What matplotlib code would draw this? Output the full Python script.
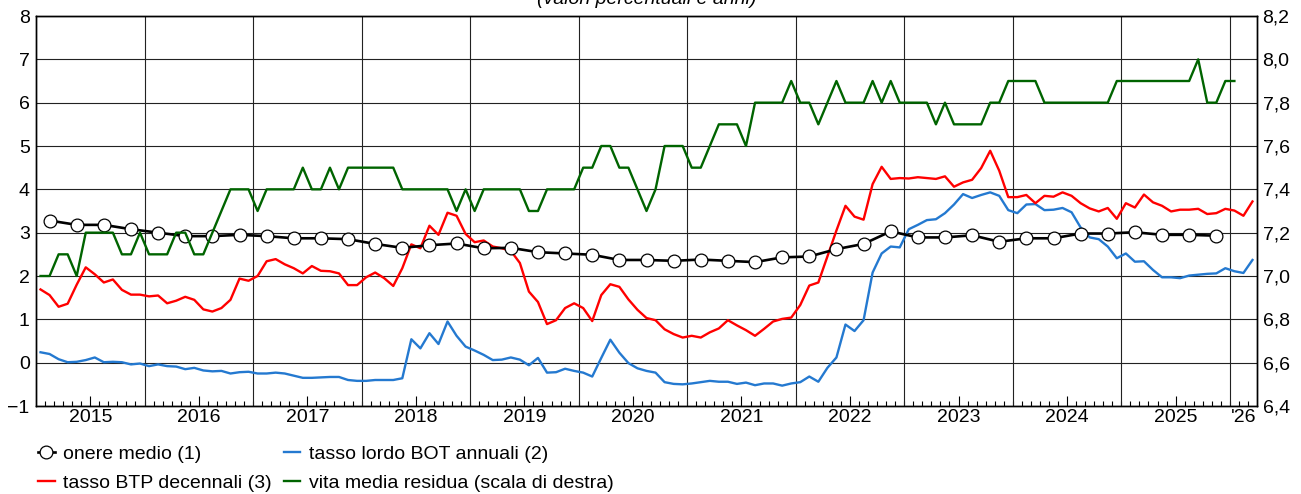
import numpy as np
import matplotlib
matplotlib.use("Agg")
import matplotlib.pyplot as plt
from matplotlib.ticker import FuncFormatter

plt.rcParams['font.family'] = ['Liberation Sans', 'DejaVu Sans']

# Year labels (placed at mid-year) and the partial final year
year_labels = ['2015', '2016', '2017', '2018', '2019', '2020',
               '2021', '2022', '2023', '2024', '2025']
last_year_label = "'26"

# Quarterly average cost of debt (%), Q1 2015 - Q4 2025
onere_medio = [
    3.28, 3.18, 3.18, 3.08,
    3.00, 2.92, 2.92, 2.95,
    2.92, 2.87, 2.87, 2.85,
    2.74, 2.65, 2.71, 2.75,
    2.64, 2.65, 2.55, 2.52,
    2.49, 2.37, 2.37, 2.35,
    2.38, 2.35, 2.32, 2.43,
    2.45, 2.62, 2.74, 3.03,
    2.89, 2.89, 2.94, 2.79,
    2.87, 2.87, 2.98, 2.98,
    3.01, 2.95, 2.95, 2.93,
]

# Monthly gross yield on annual BOT (%), Jan 2015 - Mar 2026
bot_annuali = [
    0.24, 0.20, 0.08, 0.01, 0.02, 0.06, 0.12, 0.01, 0.02, 0.01, -0.04, -0.02,
    -0.08, -0.04, -0.08, -0.09, -0.15, -0.12, -0.18, -0.20, -0.19, -0.25, -0.22, -0.21,
    -0.25, -0.25, -0.23, -0.25, -0.30, -0.35, -0.35, -0.34, -0.33, -0.33, -0.40, -0.42,
    -0.42, -0.40, -0.40, -0.40, -0.36, 0.54, 0.33, 0.68, 0.43, 0.95, 0.62, 0.37,
    0.28, 0.18, 0.06, 0.07, 0.12, 0.07, -0.06, 0.11, -0.23, -0.22, -0.14, -0.19,
    -0.23, -0.32, 0.11, 0.53, 0.23, -0.01, -0.13, -0.19, -0.23, -0.45, -0.49, -0.50,
    -0.48, -0.45, -0.42, -0.44, -0.44, -0.49, -0.46, -0.52, -0.48, -0.48, -0.53, -0.48,
    -0.45, -0.32, -0.44, -0.12, 0.12, 0.88, 0.73, 0.98, 2.08, 2.52, 2.68, 2.66,
    3.08, 3.18, 3.29, 3.31, 3.45, 3.65, 3.89, 3.80, 3.87, 3.93, 3.85, 3.52,
    3.45, 3.65, 3.66, 3.52, 3.53, 3.57, 3.47, 3.12, 2.89, 2.85, 2.68, 2.41,
    2.52, 2.33, 2.34, 2.14, 1.97, 1.97, 1.95, 2.01, 2.03, 2.05, 2.06, 2.18,
    2.11, 2.07, 2.37,
]

# Monthly 10-year BTP yield (%), Jan 2015 - Mar 2026
btp_decennali = [
    1.69, 1.56, 1.29, 1.36, 1.80, 2.20, 2.04, 1.85, 1.92, 1.68, 1.57, 1.57,
    1.53, 1.55, 1.37, 1.43, 1.52, 1.45, 1.23, 1.18, 1.26, 1.45, 1.94, 1.89,
    2.00, 2.34, 2.39, 2.27, 2.18, 2.06, 2.23, 2.12, 2.11, 2.06, 1.79, 1.79,
    1.97, 2.08, 1.95, 1.77, 2.18, 2.73, 2.64, 3.16, 2.95, 3.46, 3.39, 2.97,
    2.78, 2.82, 2.68, 2.64, 2.58, 2.30, 1.64, 1.40, 0.89, 0.98, 1.26, 1.37,
    1.26, 0.96, 1.56, 1.81, 1.75, 1.46, 1.22, 1.03, 0.98, 0.77, 0.66, 0.58,
    0.62, 0.58, 0.70, 0.79, 0.98, 0.86, 0.75, 0.62, 0.78, 0.95, 1.01, 1.04,
    1.33, 1.78, 1.85, 2.45, 3.05, 3.62, 3.37, 3.30, 4.12, 4.52, 4.24, 4.26,
    4.25, 4.28, 4.26, 4.24, 4.30, 4.06, 4.16, 4.22, 4.49, 4.89, 4.43, 3.82,
    3.82, 3.87, 3.68, 3.85, 3.83, 3.93, 3.85, 3.68, 3.56, 3.49, 3.57, 3.32,
    3.68, 3.58, 3.88, 3.70, 3.62, 3.49, 3.53, 3.53, 3.55, 3.43, 3.45, 3.55,
    3.51, 3.39, 3.72,
]

# Monthly average residual life of debt (years, right scale), Jan 2015 - Jan 2026
vita_media = [
    7.0, 7.0, 7.1, 7.1, 7.0, 7.2, 7.2, 7.2, 7.2, 7.1, 7.1, 7.2,
    7.1, 7.1, 7.1, 7.2, 7.2, 7.1, 7.1, 7.2, 7.3, 7.4, 7.4, 7.4,
    7.3, 7.4, 7.4, 7.4, 7.4, 7.5, 7.4, 7.4, 7.5, 7.4, 7.5, 7.5,
    7.5, 7.5, 7.5, 7.5, 7.4, 7.4, 7.4, 7.4, 7.4, 7.4, 7.3, 7.4,
    7.3, 7.4, 7.4, 7.4, 7.4, 7.4, 7.3, 7.3, 7.4, 7.4, 7.4, 7.4,
    7.5, 7.5, 7.6, 7.6, 7.5, 7.5, 7.4, 7.3, 7.4, 7.6, 7.6, 7.6,
    7.5, 7.5, 7.6, 7.7, 7.7, 7.7, 7.6, 7.8, 7.8, 7.8, 7.8, 7.9,
    7.8, 7.8, 7.7, 7.8, 7.9, 7.8, 7.8, 7.8, 7.9, 7.8, 7.9, 7.8,
    7.8, 7.8, 7.8, 7.7, 7.8, 7.7, 7.7, 7.7, 7.7, 7.8, 7.8, 7.9,
    7.9, 7.9, 7.9, 7.8, 7.8, 7.8, 7.8, 7.8, 7.8, 7.8, 7.8, 7.9,
    7.9, 7.9, 7.9, 7.9, 7.9, 7.9, 7.9, 7.9, 8.0, 7.8, 7.8, 7.9,
    7.9,
]

# Time axis in months from January 2015; monthly points sit mid-month,
# quarterly points mid-quarter.
def monthly_x(values):
    return np.arange(len(values)) + 0.5

x_quarters = np.arange(len(onere_medio)) * 3 + 1.5

W, H = 1301, 494
fig = plt.figure(figsize=(W / 100, H / 100), dpi=100)
left_px, right_px, top_px, bottom_px = 36, 1257, 16, 406
ax = fig.add_axes([left_px / W, 1 - bottom_px / H,
                   (right_px - left_px) / W, (bottom_px - top_px) / H])
ax2 = ax.twinx()

FS = 14
RED = '#ff0000'
BLUE = '#2479d0'
GREEN = '#006400'

l_bot, = ax.plot(monthly_x(bot_annuali), bot_annuali, color=BLUE, lw=1.7,
                 label='tasso lordo BOT annuali (2)', zorder=3)
l_btp, = ax.plot(monthly_x(btp_decennali), btp_decennali, color=RED, lw=1.7,
                 label='tasso BTP decennali (3)', zorder=3)
l_om, = ax.plot(x_quarters, onere_medio, color='black', lw=1.9, marker='o',
                ms=9.2, mfc='white', mec='black', mew=0.9,
                label='onere medio (1)', zorder=4)
l_vm, = ax2.plot(monthly_x(vita_media), vita_media, color=GREEN, lw=1.7,
                 label='vita media residua (scala di destra)', zorder=3)

# Axes ranges
ax.set_xlim(0, 135)
ax.set_ylim(-1, 8)
ax2.set_ylim(6.4, 8.2)

# Gridlines: horizontal at each unit, vertical at year boundaries
ax.set_yticks(np.arange(-1, 9, 1))
ax.grid(axis='y', color='#222222', lw=0.8, zorder=1)
for m in range(12, 135, 12):
    ax.axvline(m, color='#222222', lw=0.8, zorder=1)
ax.set_axisbelow(True)

# X ticks: long ticks at mid-year carry the year labels, short monthly ticks
ax.set_xticks(np.arange(6, 132, 12))
ax.set_xticklabels(year_labels)
ax.set_xticks(np.arange(1, 135), minor=True)
ax.tick_params(axis='x', which='major', direction='in', length=7, width=0.8,
               labelsize=FS, pad=2.5, colors='black')
ax.tick_params(axis='x', which='minor', direction='in', length=3.5, width=0.8)
ax.annotate(last_year_label, xy=(133.5, 0), xycoords=('data', 'axes fraction'),
            xytext=(0, -2.5), textcoords='offset points',
            ha='center', va='top', fontsize=FS)

ax.tick_params(axis='y', length=0, labelsize=FS, pad=4.5)
ax2.set_yticks(np.arange(6.4, 8.21, 0.2))
ax2.yaxis.set_major_formatter(FuncFormatter(lambda v, p: f"{v:.1f}".replace('.', ',')))
ax2.tick_params(axis='y', length=0, labelsize=FS, pad=4)

for a in (ax, ax2):
    for s in a.spines.values():
        s.set_color('black')
        s.set_linewidth(1.0)

# Subtitle, largely clipped at the top edge
fig.text((left_px + right_px) / 2 / W, 1 - 4.5 / H, '(valori percentuali e anni)',
         ha='center', va='baseline', fontsize=FS, style='italic')

fig.legend(handles=[l_om, l_btp, l_bot, l_vm], ncol=2, loc='upper left',
           bbox_to_anchor=(38 / W, 1 - 445 / H), frameon=False, fontsize=FS,
           handlelength=0.85, handletextpad=0.45, columnspacing=0.6,
           labelspacing=0.6, borderpad=0, borderaxespad=0)

fig.savefig('out.png', dpi=100)
